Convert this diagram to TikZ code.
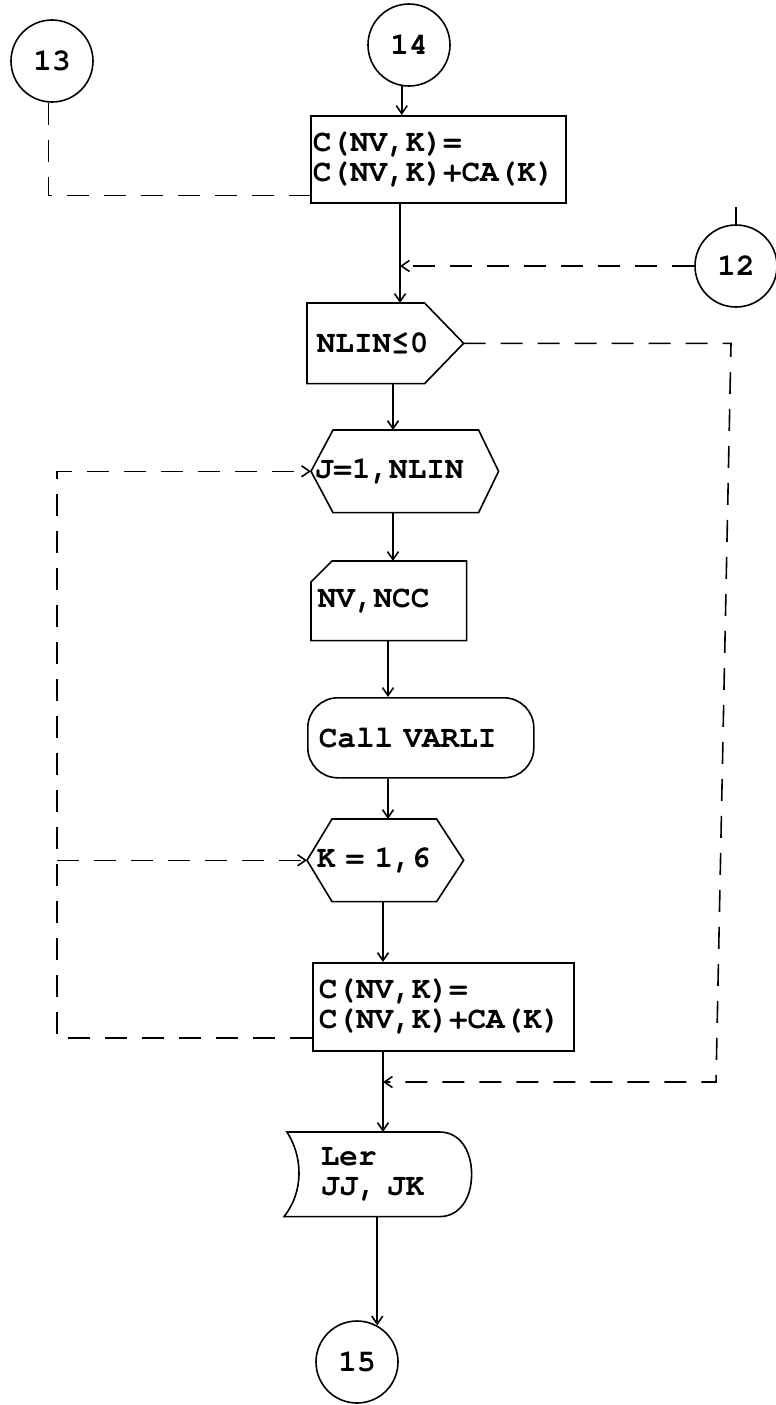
\documentclass[tikz,border=0pt]{standalone}
\usepackage{fontspec}
\newfontfamily\cour{TeX Gyre Cursor}
\usetikzlibrary{arrows.meta}
\begin{document}
\begin{tikzpicture}[x=1pt,y=-1pt, line width=1.6pt,
  every node/.style={font=\cour\bfseries\fontsize{31}{30}\selectfont},
  conn/.style={draw, circle, minimum size=82pt, inner sep=0pt},
  shp/.style={rectangle, inner ysep=0pt, align=left, anchor=north west},
  arr/.style={-{Straight Barb[length=8pt,width=11pt]}},
  dsh/.style={dash pattern=on 22pt off 15pt}]
\useasboundingbox (0,0) rectangle (776,1405);
% nodes
\node[conn] (c13) at (52,61) {13};
\node[conn] (c14) at (409,45) {14};
\node[shp, draw, text width=251pt, inner xsep=2pt, minimum height=87pt] (b1) at (310,115) {C(NV,K)=\\C(NV,K)+CA(K)};
\node[conn] (c12) at (736,266) {12};
\node[shp, text width=137pt, inner xsep=9pt, minimum height=79pt] (n1) at (307,303) {NLIN≤0};
\node[shp, text width=180pt, inner xsep=3pt, minimum height=81pt] (j1) at (311,430) {J=1,NLIN};
\node[shp, text width=142pt, inner xsep=6pt, minimum height=78pt] (v1) at (311,561) {NV,NCC};
\node[shp, draw, rounded corners=30pt, text width=204pt, inner xsep=11pt, minimum height=80pt] (call) at (307,697) {Call VARLI};
\node[shp, text width=137pt, inner xsep=9pt, minimum height=81pt] (k1) at (307,819) {K = 1,6};
\node[shp, draw, text width=249pt, inner xsep=6pt, minimum height=88pt] (b2) at (312,962) {C(NV,K)=\\C(NV,K)+CA(K)};
\node[shp, text width=114pt, inner xsep=36pt, minimum height=83pt] (ler) at (284,1132) {Ler\\JJ, JK};
\node[conn] (c15) at (357,1362) {15};
% outlines of special shapes
\draw (n1.north west) -- ([xshift=-39pt]n1.north east) -- (n1.east) -- ([xshift=-39pt]n1.south east) -- (n1.south west) -- cycle;
\draw (j1.west) -- ([xshift=22pt]j1.north west) -- ([xshift=-20pt]j1.north east) -- (j1.east) -- ([xshift=-20pt]j1.south east) -- ([xshift=22pt]j1.south west) -- cycle;
\draw ([yshift=-21pt]v1.north west) -- ([xshift=21pt]v1.north west) -- (v1.north east) -- (v1.south east) -- (v1.south west) -- cycle;
\draw (k1.west) -- ([xshift=25pt]k1.north west) -- ([xshift=-27pt]k1.north east) -- (k1.east) -- ([xshift=-27pt]k1.south east) -- ([xshift=25pt]k1.south west) -- cycle;
\draw ([xshift=3pt]ler.north west) -- ([xshift=-32pt]ler.north east)
  .. controls +(20pt,0pt) and +(0pt,24pt) .. (ler.east)
  .. controls +(0pt,-24pt) and +(20pt,0pt) .. ([xshift=-32pt]ler.south east)
  -- (ler.south west)
  .. controls +(20pt,25pt) and +(16pt,-25pt) .. ([xshift=3pt]ler.north west) -- cycle;
% spine coordinates
\coordinate (sp1) at (400,0);
\coordinate (sp2) at (393,0);
\coordinate (sp3) at (388,0);
\coordinate (sp4) at (383,0);
\coordinate (lx) at (57,0);
\coordinate (rt) at (731,0);
\coordinate (rb) at (716,1082);
\coordinate (c12top) at (736,207);
% main flow
\draw[arr] (c14.260) -- (c14.260 |- b1.north);
\draw[arr] (b1.south -| sp1) -- (n1.north -| sp1);
\draw[arr] (n1.south -| sp2) -- (j1.north -| sp2);
\draw[arr] (j1.south -| sp2) -- (v1.north -| sp2);
\draw[arr] (v1.south -| sp3) -- (call.north -| sp3);
\draw[arr] (call.south -| sp3) -- (k1.north -| sp3);
\draw[arr] (k1.south -| sp4) -- (b2.north -| sp4);
\draw[arr] (b2.south -| sp4) -- (ler.north -| sp4);
\draw[arr] (ler.south -| c15.61) -- (c15.61);
% connectors dashed
\draw[dsh] (c13.265) |- ([yshift=-36pt]b1.west);
\draw (c12.north) -- (c12top);
\draw[dsh,arr] (c12.west) -- (c12.west -| sp1);
\draw[dsh,arr] (n1.east) -- (n1.east -| rt) -- (rb) -- (rb -| sp4);
\draw[dsh,arr] ([yshift=-31pt]b2.west) -| (lx |- j1.west) -- (j1.west);
\draw[dsh,arr] (lx |- k1.west) -- (k1.west);
\end{tikzpicture}
\end{document}
